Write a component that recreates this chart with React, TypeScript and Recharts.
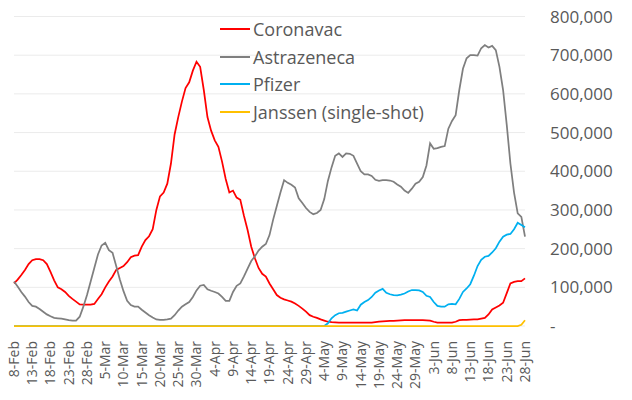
import React from "react";
import { LineChart, Line, XAxis, YAxis, CartesianGrid, Legend } from "recharts";

const MONTHS = ["Jan", "Feb", "Mar", "Apr", "May", "Jun"];
const START = new Date(2021, 1, 8);
const dates: string[] = Array.from({ length: 141 }, (_, i) => {
  const d = new Date(START.getFullYear(), START.getMonth(), START.getDate() + i);
  return `${d.getDate()}-${MONTHS[d.getMonth()]}`;
});

// values in thousands
const coronavac = [
  110, 120, 132, 145, 160, 170, 173, 173, 170, 160, 140, 118, 100, 95, 88, 78, 70, 63, 56, 55,
  55, 55, 57, 70, 82, 100, 115, 128, 145, 150, 155, 165, 178, 182, 183, 205, 222, 232, 250, 300,
  335, 345, 368, 420, 495, 540, 580, 615, 630, 660, 683, 670, 610, 540, 505, 480, 463, 425, 380, 345,
  350, 332, 326, 285, 248, 205, 175, 150, 135, 128, 110, 95, 80, 73, 69, 66, 63, 58, 52, 45,
  37, 28, 24, 21, 17, 14, 11, 10, 9.5, 9, 9, 8.5, 8.5, 8.5, 8.5, 8.5, 8.5, 9, 9, 10,
  11, 12, 12.5, 13, 13.5, 14, 14.5, 15, 15, 15.5, 15.5, 15, 15, 14.5, 14, 11, 9, 9, 9, 9,
  9, 11, 15, 16, 16, 16.5, 17, 17, 19, 21, 30, 43, 48, 53, 60, 85, 110, 114, 116, 116,
  123,
];

const astrazeneca = [
  115, 102, 88, 76, 62, 52, 50, 44, 37, 30, 25, 21, 20, 19, 17, 15, 14, 14, 24, 50,
  80, 115, 150, 185, 208, 215, 196, 189, 155, 120, 90, 65, 54, 50, 50, 42, 35, 28, 22, 17,
  16, 16, 17, 19, 28, 40, 50, 56, 62, 75, 92, 104, 106, 95, 91, 88, 84, 75, 65, 65,
  88, 104, 110, 128, 148, 168, 180, 195, 205, 212, 235, 275, 310, 345, 377, 370, 365, 358, 330, 318,
  305, 295, 289, 292, 300, 328, 375, 410, 440, 446, 437, 446, 445, 440, 420, 400, 392, 392, 388, 378,
  375, 377, 377, 376, 373, 366, 360, 350, 344, 355, 368, 373, 385, 415, 472, 458, 460, 463, 465, 510,
  530, 545, 610, 665, 692, 700, 700, 699, 718, 726, 720, 724, 713, 670, 610, 520, 420, 345, 291, 282,
  231,
];

const pfizer = [
  0, 0, 0, 0, 0, 0, 0, 0, 0, 0, 0, 0, 0, 0, 0, 0, 0, 0, 0, 0,
  0, 0, 0, 0, 0, 0, 0, 0, 0, 0, 0, 0, 0, 0, 0, 0, 0, 0, 0, 0,
  0, 0, 0, 0, 0, 0, 0, 0, 0, 0, 0, 0, 0, 0, 0, 0, 0, 0, 0, 0,
  0, 0, 0, 0, 0, 0, 0, 0, 0, 0, 0, 0, 0, 0, 0, 0, 0, 0, 0, 0,
  0, 0, 0, 0, 0, 0, 7, 20, 28, 33, 34, 37, 40, 43, 40, 55, 62, 67, 75, 86,
  92, 96, 86, 82, 80, 79, 81, 84, 89, 93, 93, 92, 88, 78, 75, 62, 52, 50, 50, 56,
  57, 56, 70, 88, 97, 108, 130, 155, 171, 179, 181, 190, 201, 218, 231, 236, 238, 250, 267, 261,
  255,
];

const janssen = [
  0, 0, 0, 0, 0, 0, 0, 0, 0, 0, 0, 0, 0, 0, 0, 0, 0, 0, 0, 0,
  0, 0, 0, 0, 0, 0, 0, 0, 0, 0, 0, 0, 0, 0, 0, 0, 0, 0, 0, 0,
  0, 0, 0, 0, 0, 0, 0, 0, 0, 0, 0, 0, 0, 0, 0, 0, 0, 0, 0, 0,
  0, 0, 0, 0, 0, 0, 0, 0, 0, 0, 0, 0, 0, 0, 0, 0, 0, 0, 0, 0,
  0, 0, 0, 0, 0, 0, 0, 0, 0, 0, 0, 0, 0, 0, 0, 0, 0, 0, 0, 0,
  0, 0, 0, 0, 0, 0, 0, 0, 0, 0, 0, 0, 0, 0, 0, 0, 0, 0, 0, 0,
  0, 0, 0, 0, 0, 0, 0, 0, 0, 0, 0, 0, 0, 0, 0, 0, 0, 0, 0, 3,
  15,
];

const yTicks = [0, 100000, 200000, 300000, 400000, 500000, 600000, 700000, 800000];

const seriesNames = ["Coronavac", "Astrazeneca", "Pfizer", "Janssen (single-shot)"];
const seriesColors = ["#FF0000", "#7F7F7F", "#00B0F0", "#FFC000"];
const seriesValues = [coronavac, astrazeneca, pfizer, janssen];

const data = dates.map((date, i) => {
  const row: Record<string, number | string> = { date };
  seriesNames.forEach((name, s) => {
    row[name] = seriesValues[s][i] * 1000;
  });
  return row;
});

const FONT = "'Open Sans', 'Noto Sans', sans-serif";
const TEXT = "#595959";

const XTick = (props: any) => {
  const { x, y, payload } = props;
  return (
    <text
      x={0}
      y={0}
      transform={`translate(${x},${y + 7}) rotate(-90)`}
      textAnchor="end"
      dy="0.35em"
      fill={TEXT}
      fontSize={14}
      fontFamily={FONT}
    >
      {payload.value}
    </text>
  );
};

const LegendContent = () => (
  <div style={{ fontFamily: FONT, fontSize: 18, color: TEXT }}>
    {seriesNames.map((name, i) => (
      <div key={name} style={{ display: "flex", alignItems: "center", height: 27.5 }}>
        <div style={{ width: 30, height: 2, background: seriesColors[i], marginRight: 3 }} />
        <span style={{ whiteSpace: "nowrap", lineHeight: "20px" }}>{name}</span>
      </div>
    ))}
  </div>
);

export default function App() {
  return (
    <div style={{ position: "absolute", left: 0, top: 0, background: "#fff" }}>
      <LineChart
        width={632}
        height={400}
        data={data}
        margin={{ top: 16.5, right: 17, bottom: 0, left: 14 }}
      >
        <CartesianGrid vertical={false} stroke="#EBEBEB" strokeWidth={1} />
        <XAxis
          dataKey="date"
          interval={4}
          tickLine={false}
          axisLine={false}
          height={74}
          tick={<XTick />}
        />
        <YAxis
          orientation="right"
          domain={[0, 800000]}
          ticks={yTicks}
          width={90}
          tickLine={false}
          axisLine={false}
          tickMargin={19}
          tick={{ fill: TEXT, fontSize: 17, fontFamily: FONT, textAnchor: "start" }}
          tickFormatter={(v: number) => (v === 0 ? "-" : v.toLocaleString("en-US"))}
        />
        <Legend
          layout="vertical"
          align="center"
          verticalAlign="middle"
          content={<LegendContent />}
          wrapperStyle={{ left: 220, top: 15.5, width: 260 }}
        />
        {seriesNames.map((name, i) => (
          <Line
            key={name}
            type="linear"
            dataKey={name}
            stroke={seriesColors[i]}
            strokeWidth={1.75}
            dot={false}
            activeDot={false}
            isAnimationActive={false}
          />
        ))}
      </LineChart>
    </div>
  );
}
